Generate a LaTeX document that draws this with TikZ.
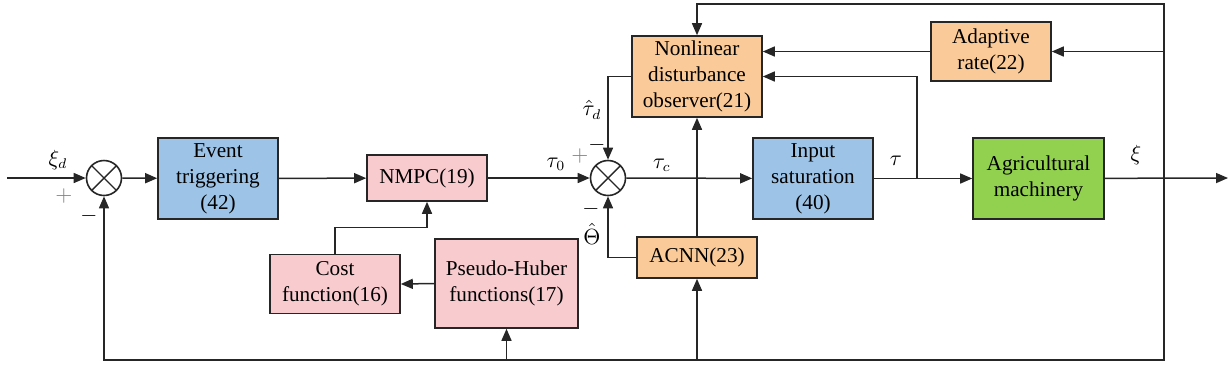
\documentclass[tikz,border=0pt]{standalone}
\usepackage[no-math]{fontspec}
\setmainfont{Liberation Serif}
\usepackage{tikz}
\usetikzlibrary{arrows.meta,calc}
\definecolor{boxblue}{HTML}{9DC3E6}
\definecolor{boxpink}{HTML}{F8CBCF}
\definecolor{boxorange}{HTML}{FACB98}
\definecolor{boxgreen}{HTML}{92D050}
\definecolor{edge}{HTML}{262626}
\tikzset{
  every picture/.style={
    line join=miter,
    >={Triangle[length=6pt,width=5pt]},
  },
  block/.style={draw=edge, line width=0.8pt, align=center, inner sep=1pt,
    font=\fontsize{10.6}{13}\selectfont},
  sumjunction/.style={draw=edge, line width=0.8pt, circle, minimum size=17.5pt, inner sep=0pt,
    path picture={
      \draw[edge, line width=0.7pt] (path picture bounding box.north west) -- (path picture bounding box.south east)
        (path picture bounding box.north east) -- (path picture bounding box.south west);}},
  sig/.style={font=\fontsize{10.6}{13}\selectfont, inner sep=0pt},
  wire/.style={draw=edge, line width=0.75pt},
}

\begin{document}
\begin{tikzpicture}[x=0.5pt, y=-0.5pt]
    \useasboundingbox (0,0) rectangle (1230,366);
    % Blocks
    \node[block, fill=boxblue, minimum width=60pt, minimum height=40.5pt] (event) at (218,178.5) {Event\\triggering\\(42)};
    \node[block, fill=boxpink, minimum width=60pt, minimum height=23pt] (nmpc) at (427,178) {NMPC(19)};
    \node[block, fill=boxorange, minimum width=65pt, minimum height=40.5pt] (obs) at (697,76.5) {Nonlinear\\disturbance\\observer(21)};
    \node[block, fill=boxblue, minimum width=60pt, minimum height=40.5pt] (sat) at (813,178.5) {Input\\saturation\\(40)};
    \node[block, fill=boxorange, minimum width=60pt, minimum height=20.5pt] (acnn) at (697,257.5) {ACNN(23)};
    \node[block, fill=boxorange, minimum width=60pt, minimum height=29.5pt] (adapt) at (991,51.5) {Adaptive\\rate(22)};
    \node[block, fill=boxgreen, minimum width=65.5pt, minimum height=40.5pt] (agri) at (1038.5,178.5) {Agricultural\\machinery};
    \node[block, fill=boxpink, minimum width=65pt, minimum height=29.5pt] (cost) at (335,284) {Cost\\function(16)};
    \node[block, fill=boxpink, minimum width=71.5pt, minimum height=44.5pt] (huber) at (506.5,283.5) {Pseudo-Huber\\functions(17)};
    % Summing junctions
    \node[sumjunction] (s1) at (104,178) {};
    \node[sumjunction] (s2) at (608,178) {};
    % Branch points
    \coordinate (in) at (7,178);
    \coordinate (out) at (1228,178);
    \coordinate (taub) at (917,178);
    \coordinate (xib) at (1164,178);
    \coordinate (topc) at (697,4);
    \coordinate (botc) at (1164,360);
    % Forward path
    \draw[wire, ->] (in) -- (s1);
    \draw[wire, ->] (s1) -- (event);
    \draw[wire, ->] (event) -- (nmpc);
    \draw[wire, ->] (nmpc) -- (s2);
    \draw[wire, ->] (s2) -- (sat);
    \draw[wire, ->] (sat) -- (agri);
    \draw[wire, ->] (agri) -- (out);
    % Observer loop
    \draw[wire, ->] (xib) |- (topc) -- (obs.north);
    \draw[wire, ->] (adapt.east -| xib) -- (adapt.east);
    \draw[wire, ->] (adapt.west) -- (adapt.west -| obs.east);
    \draw[wire, ->] (taub) |- (obs.east);
    \draw[wire, ->] (obs.west) -| (s2.north);
    \draw[wire, ->] (acnn.west) -| (s2.south);
    \draw[wire, ->] (acnn.north) -- (obs.south);
    % Bottom feedback
    \draw[wire, ->] (xib) -- (botc) -| (s1.south);
    \draw[wire, ->] (acnn.south |- botc) -- (acnn.south);
    \draw[wire, ->] (huber.south |- botc) -- (huber.south);
    \draw[wire, ->] (huber.west) -- (cost.east);
    \draw[wire, ->] (cost.north) -- ++(0,-26) -| (nmpc.south);
    % Signal labels
    \node[sig] (xid) at (58,160) {$\xi_d$};
    \node[sig, text=gray] (p1) at (64,196) {$+$};
    \node[sig] (m1) at (89,216) {$-$};
    \node[sig] (tau0) at (556,164) {$\tau_0$};
    \node[sig, text=gray] (p2) at (580,156) {$+$};
    \node[sig] (m2) at (597,145) {$-$};
    \node[sig] (taud) at (592,110) {$\hat{\tau}_d$};
    \node[sig] (m3) at (591,209) {$-$};
    \node[sig] (theta) at (592,234) {$\hat{\Theta}$};
    \node[sig] (tauc) at (662,165) {$\tau_c$};
    \node[sig] (tau) at (896,161) {$\tau$};
    \node[sig] (xi) at (1136,155) {$\xi$};
\end{tikzpicture}
\end{document}
